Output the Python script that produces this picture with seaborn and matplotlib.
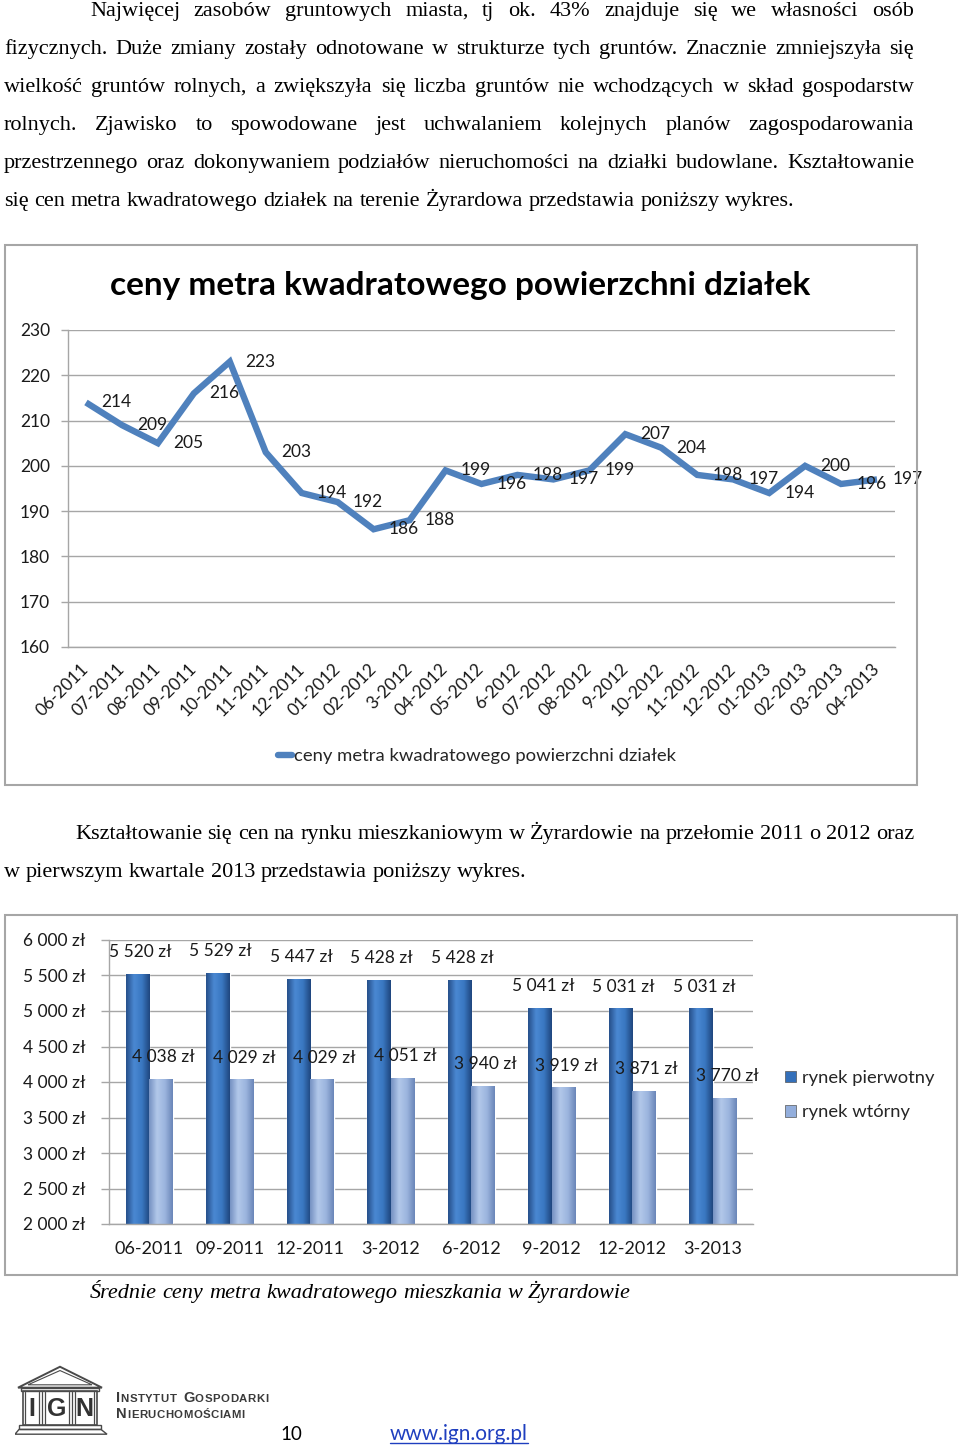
import numpy as np
import pandas as pd
import matplotlib
matplotlib.use("Agg")
import matplotlib.pyplot as plt
import seaborn as sns
from matplotlib.patches import Rectangle, Polygon
from matplotlib.lines import Line2D
from matplotlib.colors import LinearSegmentedColormap
from matplotlib.ticker import FixedLocator, FuncFormatter

# --- data: chart 1 (land plots, price per m2) ---
months = ["06-2011", "07-2011", "08-2011", "09-2011", "10-2011", "11-2011", "12-2011",
          "01-2012", "02-2012", "3-2012", "04-2012", "05-2012", "6-2012", "07-2012",
          "08-2012", "9-2012", "10-2012", "11-2012", "12-2012", "01-2013", "02-2013",
          "03-2013", "04-2013"]
plot_prices = [214, 209, 205, 216, 223, 203, 194, 192, 186, 188, 199, 196,
               198, 197, 199, 207, 204, 198, 197, 194, 200, 196, 197]
plot_yticks = [160, 170, 180, 190, 200, 210, 220, 230]
line_title = "ceny metra kwadratowego powierzchni działek"

# --- data: chart 2 (flats, price per m2) ---
quarters = ["06-2011", "09-2011", "12-2011", "3-2012", "6-2012", "9-2012", "12-2012", "3-2013"]
primary = [5520, 5529, 5447, 5428, 5428, 5041, 5031, 5031]
secondary = [4038, 4029, 4029, 4051, 3940, 3919, 3871, 3770]
market_names = ["rynek pierwotny", "rynek wtórny"]
flat_yticks = [2000, 2500, 3000, 3500, 4000, 4500, 5000, 5500, 6000]

W, H = 960, 1450
sns.set_theme(style="white")
plt.rcParams["font.family"] = ["Lato", "DejaVu Sans"]
SERIF = ["Liberation Serif", "DejaVu Serif"]
GRID = "#A6A6A6"
BODY = 16

fig = plt.figure(figsize=(9.6, 14.5), dpi=100)
fig.patch.set_facecolor("white")
renderer = fig.canvas.get_renderer()


def fx(x):
    return x / W


def fy(y):
    return 1 - y / H


def text_width(t):
    return t.get_window_extent(renderer).width


def write_line(line, x0, x1, y, size=BODY, justify=True, **kw):
    words = line.split()
    texts = [fig.text(fx(x0), fy(y), w, fontsize=size, family=SERIF,
                      va="baseline", color="black", **kw) for w in words]
    widths = [text_width(t) for t in texts]
    if justify and len(words) > 1:
        gap = (x1 - x0 - sum(widths)) / (len(words) - 1)
    else:
        a = fig.text(0, 0, "x x", fontsize=size, family=SERIF, **kw)
        b = fig.text(0, 0, "xx", fontsize=size, family=SERIF, **kw)
        gap = text_width(a) - text_width(b)
        a.remove()
        b.remove()
    x = x0
    for t, w in zip(texts, widths):
        t.set_x(fx(x))
        x += w + gap


# --- body text, paragraph 1 ---
para1 = [
    "Najwięcej zasobów gruntowych miasta, tj ok. 43% znajduje się we własności osób",
    "fizycznych. Duże zmiany zostały odnotowane w strukturze tych gruntów. Znacznie zmniejszyła się",
    "wielkość gruntów rolnych, a zwiększyła się liczba gruntów nie wchodzących w skład gospodarstw",
    "rolnych. Zjawisko to spowodowane jest uchwalaniem kolejnych planów zagospodarowania",
    "przestrzennego oraz dokonywaniem podziałów nieruchomości na działki budowlane. Kształtowanie",
    "się cen metra kwadratowego działek na terenie Żyrardowa przedstawia poniższy wykres.",
]
for i, line in enumerate(para1):
    x0 = 90 if i == 0 else 4
    write_line(line, x0, 914, 16 + 38 * i, justify=(i < len(para1) - 1))

para2 = [
    "Kształtowanie się cen na rynku mieszkaniowym w Żyrardowie na przełomie 2011 o 2012 oraz",
    "w pierwszym kwartale 2013 przedstawia poniższy wykres.",
]
write_line(para2[0], 75, 914, 839)
write_line(para2[1], 4, 914, 877, justify=False)

write_line("Średnie ceny metra kwadratowego mieszkania w Żyrardowie", 90, 700, 1298,
           justify=False, style="italic")

# --- chart 1 frame ---
fig.add_artist(Rectangle((fx(5), fy(785)), fx(912), 540 / H, transform=fig.transFigure,
                         fill=False, edgecolor=GRID, lw=1.5))
fig.text(fx(460), fy(285), line_title, fontsize=24, fontweight="bold",
         ha="center", va="center", color="black")

ax1 = fig.add_axes([fx(68), fy(647), (895 - 68) / W, (647 - 330) / H])
sns.lineplot(x=months, y=plot_prices, ax=ax1, color="#4F81BD", lw=4.6,
             sort=False, legend=False)
ax1.get_lines()[0].set_solid_capstyle("butt")
ax1.get_lines()[0].set_solid_joinstyle("miter")
for m, v in zip(months, plot_prices):
    ax1.annotate(str(v), (m, v), xytext=(11, 0), textcoords="offset points",
                 ha="left", va="center", fontsize=12.5, color="#1a1a1a")

ax1.set_xlim(-0.5, len(months) - 0.5)
ax1.set_ylim(plot_yticks[0], plot_yticks[-1])
ax1.set_yticks(plot_yticks)
ax1.set_xticks(range(len(months)))
ax1.set_xticklabels(months, rotation=45, ha="right", va="center",
                    rotation_mode="anchor", fontsize=12.5, color="#1a1a1a")
ax1.xaxis.set_minor_locator(FixedLocator(np.arange(-0.5, len(months), 1)))
ax1.tick_params(axis="x", which="major", length=0, pad=14)
ax1.tick_params(axis="x", which="minor", length=6, direction="out", color=GRID, width=1)
ax1.tick_params(axis="y", length=5, direction="out", color=GRID, width=1,
                labelsize=12.5, labelcolor="#1a1a1a", pad=8, left=True)
ax1.grid(axis="y", color=GRID, lw=1)
ax1.set_axisbelow(True)
for s in ["top", "right"]:
    ax1.spines[s].set_visible(False)
for s in ["left", "bottom"]:
    ax1.spines[s].set_color(GRID)
    ax1.spines[s].set_linewidth(1)
ax1.set_xlabel("")
ax1.set_ylabel("")
ax1.set_facecolor("white")
ax1.legend([Line2D([], [], color="#4F81BD", lw=4.6)], [line_title],
           loc="center", bbox_to_anchor=(fx(477), fy(756)),
           bbox_transform=fig.transFigure, frameon=False, fontsize=13.3,
           handlelength=0.75, handletextpad=0.1)

# --- chart 2 frame ---
fig.add_artist(Rectangle((fx(5), fy(1275)), fx(952), 360 / H, transform=fig.transFigure,
                         fill=False, edgecolor=GRID, lw=1.5))

ax2 = fig.add_axes([fx(109), fy(1224), (753 - 109) / W, (1224 - 940) / H])
flats = pd.DataFrame({
    "Okres": quarters * 2,
    "Cena": primary + secondary,
    "Rynek": [market_names[0]] * len(quarters) + [market_names[1]] * len(quarters),
})
dark, light = "#3470BA", "#93AEDC"
sns.barplot(data=flats, x="Okres", y="Cena", hue="Rynek", hue_order=market_names,
            palette=[dark, light], width=0.58, gap=0, saturation=1, legend=False,
            ax=ax2, zorder=2)

cmaps = [LinearSegmentedColormap.from_list("d", ["#264F8A", "#4A88D2", "#3A78C2", "#1F467E"]),
         LinearSegmentedColormap.from_list("l", ["#7591C2", "#B2C8EA", "#9CB5DE", "#6A86B8"])]
grad = np.linspace(0, 1, 64).reshape(1, -1)
for cont, vals, cm in zip(ax2.containers, [primary, secondary], cmaps):
    for bar, v in zip(cont, vals):
        x0, w = bar.get_x(), bar.get_width()
        ax2.imshow(grad, cmap=cm, extent=[x0, x0 + w, 0, v], aspect="auto",
                   zorder=2.5, interpolation="bicubic")
        ax2.annotate(f"{v:,}".replace(",", " ") + " zł", (x0 + w / 2, v),
                     xytext=(2, 16), textcoords="offset points",
                     ha="center", va="center", fontsize=12.5, color="#1a1a1a", zorder=4)

ax2.set_xlim(-0.5, len(quarters) - 0.5)
ax2.set_ylim(flat_yticks[0], flat_yticks[-1])
ax2.set_yticks(flat_yticks)
ax2.yaxis.set_major_formatter(FuncFormatter(lambda v, p: f"{int(v):,}".replace(",", " ") + " zł"))
ax2.xaxis.set_minor_locator(FixedLocator(np.arange(-0.5, len(quarters), 1)))
ax2.tick_params(axis="x", which="major", length=0, pad=12, labelsize=13, labelcolor="#1a1a1a")
ax2.tick_params(axis="x", which="minor", length=7, direction="out", color=GRID, width=1)
ax2.tick_params(axis="y", length=6, direction="out", color=GRID, width=1,
                labelsize=12.5, labelcolor="#1a1a1a", pad=11, left=True)
ax2.grid(axis="y", color=GRID, lw=1, zorder=0)
ax2.set_axisbelow(True)
for s in ["top", "right"]:
    ax2.spines[s].set_visible(False)
for s in ["left", "bottom"]:
    ax2.spines[s].set_color(GRID)
    ax2.spines[s].set_linewidth(1)
ax2.set_xlabel("")
ax2.set_ylabel("")
ax2.set_facecolor("white")
handles = [Rectangle((0, 0), 1, 1, facecolor=c, edgecolor="#555555", lw=0.5) for c in (dark, light)]
ax2.legend(handles, market_names, loc="center left", bbox_to_anchor=(fx(768), fy(1095)),
           bbox_transform=fig.transFigure, frameon=False, fontsize=13.2,
           handlelength=0.6, handleheight=0.6, handletextpad=0.35, labelspacing=1.0)

# --- footer: logo ---
lg = fig.add_axes([fx(15), fy(1438), 100 / W, 76 / H])
lg.set_xlim(0, 100)
lg.set_ylim(0, 80)
lg.axis("off")
ink = "#4a4a4a"
lg.add_patch(Polygon([(3, 53), (45, 75), (87, 53)], closed=True, fill=False, edgecolor=ink, lw=1.4))
lg.add_patch(Polygon([(13, 56), (45, 71), (77, 56)], closed=True, fill=False, edgecolor=ink, lw=0.8))
lg.add_patch(Rectangle((6, 49), 78, 4, fill=False, edgecolor=ink, lw=1.0))
lg.add_patch(Rectangle((8, 14), 74, 35, fill=False, edgecolor=ink, lw=1.2))
for xv in [10, 24, 27, 30, 54, 57, 60, 79]:
    lg.plot([xv, xv], [15, 48], color=ink, lw=0.9)
for xv, letter in [(17, "I"), (42, "G"), (69, "N")]:
    lg.text(xv, 31, letter, ha="center", va="center", fontsize=18, fontweight="bold",
            color="#333333", family=["Liberation Sans", "DejaVu Sans"])
lg.add_patch(Rectangle((4, 9), 82, 5, fill=False, edgecolor=ink, lw=1.0))
lg.add_patch(Polygon([(0, 4), (4, 9), (86, 9), (92, 4)], closed=True, fill=False, edgecolor=ink, lw=1.0))


def small_caps(text, x, y, big=10.5, small=8.2, **kw):
    for word in text.split():
        for j, ch in enumerate(word):
            t = fig.text(fx(x), fy(y), ch, fontsize=big if j == 0 else small,
                         fontweight="bold", va="baseline", color="#3a3a3a",
                         family=["Liberation Sans", "DejaVu Sans"], **kw)
            x += text_width(t) + 0.5
        x += 6


small_caps("Instytut Gospodarki".upper(), 116, 1402)
small_caps("Nieruchomościami".upper(), 116, 1418)

fig.text(fx(280), fy(1440), "10", fontsize=13.5, va="baseline", color="black")
url = fig.text(fx(390), fy(1440), "www.ign.org.pl", fontsize=15, va="baseline", color="#1F3FBF")
uw = text_width(url)
fig.add_artist(Line2D([fx(390), fx(390 + uw)], [fy(1443), fy(1443)], transform=fig.transFigure,
                      color="#1F3FBF", lw=1))

fig.savefig("out.png", dpi=100, facecolor="white")
